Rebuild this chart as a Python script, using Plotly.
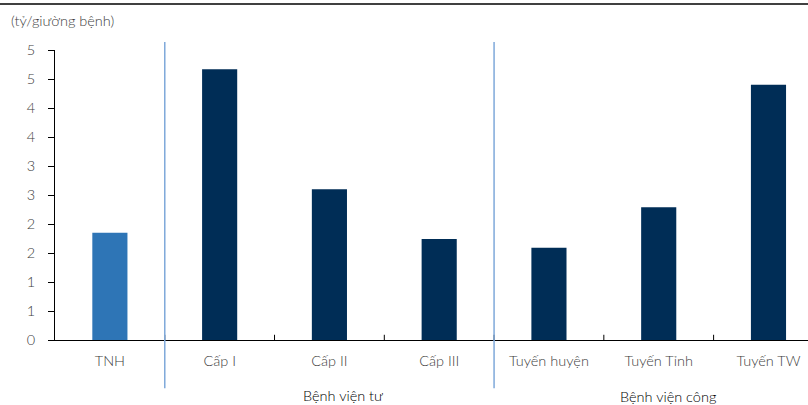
import plotly.graph_objects as go

categories = ["TNH", "Cấp I", "Cấp II", "Cấp III", "Tuyến huyện", "Tuyến Tỉnh", "Tuyến TW"]
values = [1.85, 4.67, 2.60, 1.74, 1.59, 2.29, 4.40]
bar_colors = ["#2E75B6", "#002D56", "#002D56", "#002D56", "#002D56", "#002D56", "#002D56"]
y_tickvals = [0, 0.5, 1, 1.5, 2, 2.5, 3, 3.5, 4, 4.5, 5]
y_ticktext = ["0", "1", "1", "2", "2", "3", "3", "4", "4", "5", "5"]
groups = ["Bệnh viện tư", "Bệnh viện công"]
unit_label = "(tỷ/giường bệnh)"

FONT = "Lato"
GRAY = "#404040"
FS = 14.5

fig = go.Figure()
fig.add_trace(go.Bar(
    x=list(range(len(categories))), y=values,
    marker=dict(color=bar_colors, line=dict(width=0)),
    width=0.32,
))

fig.update_layout(
    width=808, height=405,
    margin=dict(l=55, r=0, t=50, b=65),
    paper_bgcolor="white", plot_bgcolor="white",
    showlegend=False,
    font=dict(family=FONT, size=FS, color=GRAY, weight=300),
    xaxis=dict(
        range=[-0.5, 6.36],
        tickvals=list(range(len(categories))), ticktext=categories,
        showgrid=False, zeroline=False,
        showline=True, linecolor="#000000", linewidth=1,
        ticks="", ticklabelstandoff=8,
        tickfont=dict(family=FONT, size=FS, color=GRAY, weight=300),
    ),
    yaxis=dict(
        range=[0, 5],
        tickvals=y_tickvals, ticktext=y_ticktext,
        showgrid=False, zeroline=False,
        showline=True, linecolor="#000000", linewidth=1,
        ticks="outside", ticklen=6, tickcolor="#000000",
        ticklabelstandoff=10,
        tickfont=dict(family=FONT, size=FS, color=GRAY, weight=300),
    ),
)

# x boundary ticks (inside)
for b in [0.5, 1.5, 2.5, 3.5, 4.5, 5.5]:
    fig.add_shape(type="line", xref="x", yref="y", x0=b, x1=b, y0=0, y1=0.09,
                  line=dict(color="#000000", width=1))

# group separators
for b in [0.5, 3.5]:
    fig.add_shape(type="line", xref="x", yref="paper", x0=b, x1=b, y0=-0.166, y1=1.028,
                  line=dict(color="#7FA9DA", width=1.5))

# top rule
fig.add_shape(type="line", xref="paper", yref="paper", x0=-0.08, x1=1.0, y0=1.159, y1=1.159,
              line=dict(color="#000000", width=1.5))

fig.add_annotation(text=unit_label, xref="paper", yref="paper", x=-0.061, y=1.10,
                   xanchor="left", yanchor="middle", showarrow=False,
                   font=dict(family=FONT, size=FS, color=GRAY, weight=300))

fig.add_annotation(text=groups[0], xref="x", yref="paper", x=2.12, y=-0.19,
                   xanchor="center", yanchor="middle", showarrow=False,
                   font=dict(family=FONT, size=14.5, color="#000000", weight=300))
fig.add_annotation(text=groups[1], xref="x", yref="paper", x=5.08, y=-0.196,
                   xanchor="center", yanchor="middle", showarrow=False,
                   font=dict(family=FONT, size=14.5, color="#000000", weight=300))

fig.write_html("out.html")
